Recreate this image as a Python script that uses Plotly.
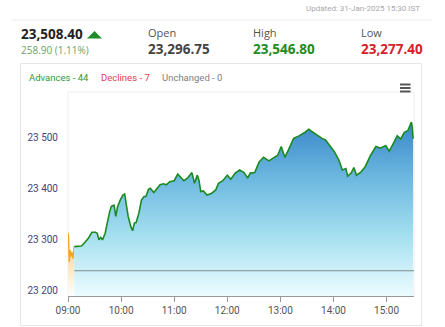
import plotly.graph_objects as go

DAY = "2025-01-31 "

# Pre-open session (09:00-09:07)
pre_times = ["09:00:00", "09:00:40", "09:01:30", "09:02:30", "09:03:20", "09:04:30", "09:05:40", "09:06:20", "09:07:00"]
pre_values = [23324, 23316, 23267, 23290, 23277, 23286, 23273, 23292, 23296.75]

# Regular session
times = ["09:07", "09:15", "09:16:30", "09:20", "09:23", "09:27", "09:31", "09:33", "09:35", "09:37",
         "09:39", "09:42", "09:44", "09:47", "09:49", "09:52", "09:54", "09:56", "09:59", "10:02",
         "10:04", "10:06", "10:08", "10:11", "10:13", "10:15", "10:17", "10:20", "10:23", "10:26",
         "10:28", "10:31", "10:33", "10:37", "10:41", "10:44", "10:48", "10:51", "10:55", "11:00",
         "11:04", "11:07", "11:11", "11:15", "11:18", "11:20", "11:23", "11:26", "11:28", "11:30",
         "11:33", "11:37", "11:42", "11:47", "11:50", "11:55", "12:00", "12:04", "12:09", "12:14",
         "12:19", "12:23", "12:26", "12:31", "12:36", "12:41", "12:47", "12:53", "12:57", "13:01",
         "13:05", "13:09", "13:15", "13:21", "13:27", "13:32", "13:36", "13:42", "13:47", "13:51",
         "13:57", "14:01", "14:06", "14:10", "14:14", "14:16", "14:20", "14:23", "14:26", "14:31",
         "14:36", "14:42", "14:48", "14:53", "14:59", "15:03", "15:07", "15:12", "15:16", "15:20",
         "15:24", "15:28", "15:29", "15:30"]
values = [23296.75, 23298, 23300, 23306, 23313, 23325, 23325, 23323, 23310, 23315,
          23310, 23323, 23343, 23365, 23376, 23378, 23356, 23375, 23388, 23398,
          23400, 23378, 23356, 23336, 23328, 23343, 23344, 23362, 23388, 23395,
          23395, 23409, 23411, 23403, 23411, 23418, 23420, 23418, 23424, 23426,
          23439, 23433, 23426, 23431, 23437, 23442, 23421, 23437, 23427, 23405,
          23406, 23398, 23401, 23408, 23421, 23426, 23437, 23429, 23441, 23447,
          23442, 23431, 23441, 23442, 23463, 23472, 23465, 23472, 23476, 23493,
          23472, 23486, 23509, 23514, 23520, 23527, 23522, 23514, 23509, 23506,
          23493, 23483, 23467, 23447, 23450, 23435, 23441, 23452, 23437, 23443,
          23454, 23476, 23493, 23490, 23495, 23484, 23497, 23514, 23508, 23521,
          23524, 23541, 23532, 23508.40]

last_price = 23508.40
change = 258.90
change_pct = 1.11
open_price = 23296.75
high_price = 23546.80
low_price = 23277.40
prev_close = last_price - change

advances, declines, unchanged = 44, 7, 0

y_ticks = [23200, 23300, 23400, 23500]
y_ticktext = ["23 200", "23 300", "23 400", "23 500"]
x_ticks = ["09:00", "10:00", "11:00", "12:00", "13:00", "14:00", "15:00"]

W, H = 445, 327
L, R, T, B = 68, 31, 92, 31
PW, PH = W - L - R, H - T - B


def xp(px):
    return (px - L) / PW


def yp(py):
    return (T + PH - py) / PH


fig = go.Figure()

fig.add_trace(go.Scatter(
    x=[DAY + t for t in pre_times], y=pre_values, mode="lines",
    line=dict(color="#f5a31a", width=1.3),
    fill="tozeroy",
    fillgradient=dict(type="vertical", start=23200, stop=23324,
                      colorscale=[[0, "rgba(255,255,255,0.9)"], [1, "rgba(250,200,110,1)"]]),
    hoverinfo="skip", showlegend=False))

fig.add_trace(go.Scatter(
    x=[DAY + t for t in times], y=values, mode="lines",
    line=dict(color="#1b8a22", width=1.6),
    fill="tozeroy",
    fillgradient=dict(type="vertical", start=23200, stop=23530,
                      colorscale=[[0, "#ecfcff"], [0.35, "#a6e0f0"], [0.7, "#6cb8e0"], [1, "#3f8ccb"]]),
    hoverinfo="skip", showlegend=False))

fig.add_trace(go.Scatter(
    x=[DAY + times[0], DAY + "15:31"], y=[prev_close, prev_close], mode="lines",
    line=dict(color="#7f8c8c", width=1.2),
    hoverinfo="skip", showlegend=False))

shapes = [
    # header separator
    dict(type="line", xref="paper", yref="paper", x0=xp(12), x1=xp(432), y0=yp(20), y1=yp(20),
         line=dict(color="#eeeeee", width=1)),
    # card
    dict(type="rect", xref="paper", yref="paper", x0=xp(20.5), x1=xp(421.5), y0=yp(63.5), y1=yp(325.5),
         line=dict(color="#e6e6e6", width=1), layer="below"),
    # plot box
    dict(type="rect", xref="paper", yref="paper", x0=0, x1=1, y0=0, y1=1,
         line=dict(color="#eeeeee", width=1), layer="below"),
    # up triangle
    dict(type="path", xref="paper", yref="paper",
         path=f"M {xp(87)},{yp(38.5)} L {xp(102)},{yp(38.5)} L {xp(94.5)},{yp(31)} Z",
         fillcolor="#1e8c2a", line=dict(width=0)),
]
for yy in (84.5, 88, 91.5):
    shapes.append(dict(type="line", xref="paper", yref="paper", x0=xp(400), x1=xp(410.5),
                       y0=yp(yy), y1=yp(yy), line=dict(color="#555555", width=2)))

HF = "Open Sans, Lato, sans-serif"
AF = "Roboto, sans-serif"


def ann(text, px, py, size, color, anchor="left", family=HF):
    return dict(text=text, x=xp(px), y=yp(py), xref="paper", yref="paper",
                xanchor=anchor, yanchor="middle", showarrow=False,
                font=dict(size=size, color=color, family=family))


annotations = [
    ann("Updated: 31-Jan-2025 15:30 IST", 422, 8.5, 8, "#a8a8a8", anchor="right", family=AF),
    ann(f"<b>{last_price:,.2f}</b>", 19, 34, 13.5, "#222222"),
    ann(f"{change:.2f} ({change_pct:.2f}%)", 19, 50, 10, "#6aa36a"),
    ann("Open", 146, 32.5, 11, "#555555"),
    ann(f"<b>{open_price:,.2f}</b>", 146, 48.5, 13.5, "#444444"),
    ann("High", 251, 32.5, 11, "#555555"),
    ann(f"<b>{high_price:,.2f}</b>", 251, 48.5, 13.5, "#1e8c1e"),
    ann("Low", 359, 32.5, 11, "#555555"),
    ann(f"<b>{low_price:,.2f}</b>", 359, 48.5, 13.5, "#d9202a"),
    ann(f"Advances - {advances}", 27, 77, 9.5, "#2e9a3a", family=AF),
    ann(f"Declines - {declines}", 99, 77, 9.5, "#e83a4a", family=AF),
    ann(f"Unchanged - {unchanged}", 160, 77, 9.5, "#808080", family=AF),
]

fig.update_layout(
    width=W, height=H,
    margin=dict(l=L, r=R, t=T, b=B, pad=0),
    paper_bgcolor="white", plot_bgcolor="white",
    shapes=shapes, annotations=annotations,
    showlegend=False,
    xaxis=dict(
        type="date",
        range=[DAY + "09:00", DAY + "15:31"],
        tickvals=[DAY + t for t in x_ticks], ticktext=x_ticks,
        showgrid=False, zeroline=False,
        showline=True, linecolor="#999999", linewidth=1,
        ticks="outside", ticklen=5, tickcolor="#999999",
        tickfont=dict(size=10, color="#555555", family=AF),
        fixedrange=True,
    ),
    yaxis=dict(
        range=[23200, 23600],
        tickvals=y_ticks, ticktext=y_ticktext,
        showgrid=False, zeroline=False, showline=False,
        ticks="", ticklabelstandoff=9, ticklabelshift=-6,
        tickfont=dict(size=10, color="#444477", family=AF),
        fixedrange=True,
    ),
)

fig.write_html("out.html", config={"displayModeBar": False})
